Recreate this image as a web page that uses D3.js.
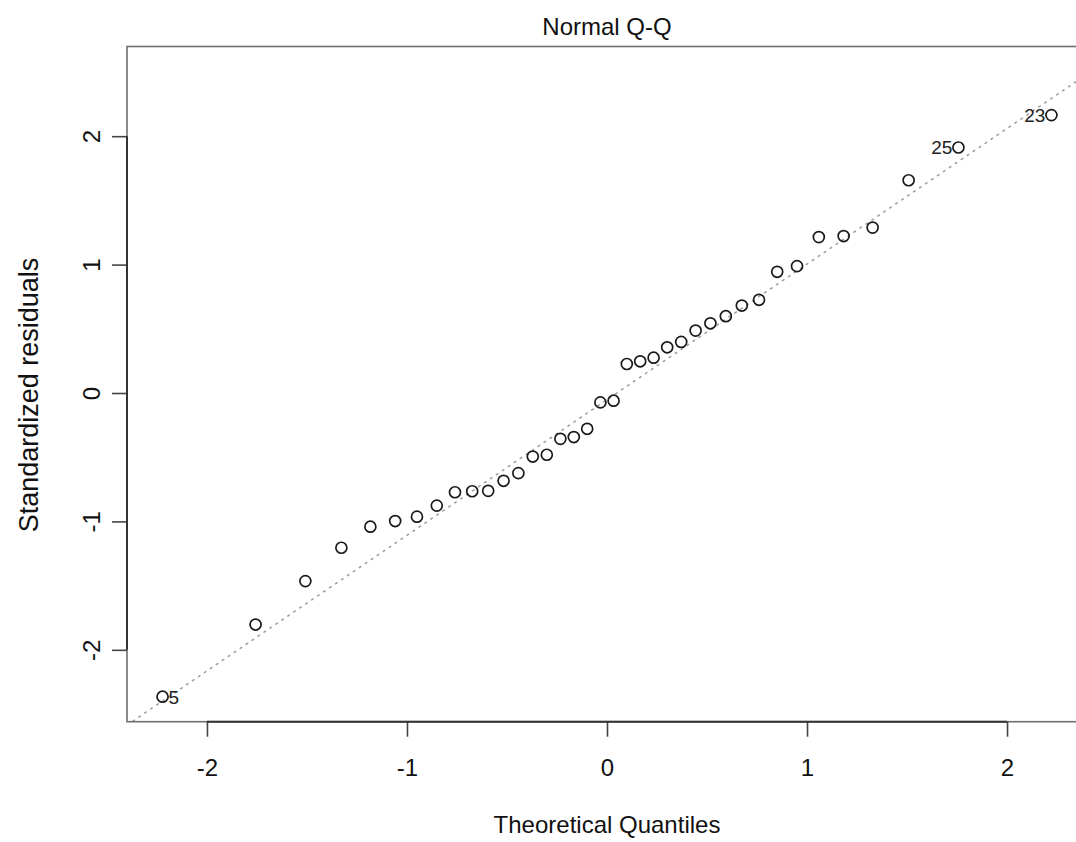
<!DOCTYPE html>
<html>
<head>
<meta charset="utf-8">
<script src="https://cdn.jsdelivr.net/npm/d3@7"></script>
<style>
  html, body { margin: 0; padding: 0; background: #fff; }
  svg { display: block; font-family: "Liberation Sans", Arial, Helvetica, sans-serif; }
</style>
</head>
<body>
<svg id="chart" width="1076" height="842"></svg>
<script>
// ---- data ----
// theoretical quantiles (x) read at each point, sorted
const theoQuantiles = [
  -2.222, -1.757, -1.508, -1.328, -1.183, -1.059, -0.950, -0.851, -0.760, -0.674,
  -0.594, -0.517, -0.443, -0.371, -0.301, -0.233, -0.166, -0.099, -0.033,
   0.033,  0.099,  0.166,  0.233,  0.301,  0.371,  0.443,  0.517,  0.594,  0.674,
   0.760,  0.851,  0.950,  1.059,  1.183,  1.328,  1.508,  1.757,  2.222
];
// standardized residuals (y), sorted
const stdResiduals = [
  -2.365, -1.803, -1.465, -1.205, -1.041, -0.997, -0.963, -0.877, -0.773, -0.765,
  -0.762, -0.684, -0.624, -0.495, -0.481, -0.357, -0.343, -0.279, -0.073, -0.060,
   0.226,  0.247,  0.275,  0.356,  0.398,  0.486,  0.543,  0.598,  0.681,  0.726,
   0.944,  0.988,  1.214,  1.222,  1.288,  1.657,  1.912,  2.164
];
// labelled observations (index into sorted arrays) and their labels
const labelIndex = [0, 36, 37];
const labelText  = ["5", "25", "23"];
const xTicks = [-2, -1, 0, 1, 2];
const yTicks = [-2, -1, 0, 1, 2];
// standard normal quartiles used by the reference line
const normQuartiles = [-0.6745, 0.6745];
const titleText = "Normal Q-Q";
const xLabel = "Theoretical Quantiles";
const yLabel = "Standardized residuals";

// ---- layout ----
const W = 1076, H = 842;
const plotL = 127, plotR = 1087, plotT = 46.5, plotB = 721.7;

const svg = d3.select("#chart");
svg.append("rect").attr("width", W).attr("height", H).attr("fill", "#fff");

// R-style limits: 4% extension; y upper extended 7.5% for labels
const xr = d3.extent(theoQuantiles);
const xd = xr[1] - xr[0];
const yr = d3.extent(stdResiduals);
const ylim = [yr[0], yr[1] + (yr[1] - yr[0]) * 0.075];
const yd = ylim[1] - ylim[0];

const x = d3.scaleLinear().domain([xr[0] - 0.04 * xd, xr[1] + 0.04 * xd]).range([plotL, plotR]);
const y = d3.scaleLinear().domain([ylim[0] - 0.04 * yd, ylim[1] + 0.04 * yd]).range([plotB, plotT]);

const pts = theoQuantiles.map((q, i) => ({ q, r: stdResiduals[i] }));

// clip for the reference line
svg.append("defs").append("clipPath").attr("id", "plotclip")
  .append("rect").attr("x", plotL).attr("y", plotT)
  .attr("width", plotR - plotL).attr("height", plotB - plotT);

// qqline through quartiles
const q1 = d3.quantile(stdResiduals, 0.25), q3 = d3.quantile(stdResiduals, 0.75);
const z1 = normQuartiles[0], z3 = normQuartiles[1];
const slope = (q3 - q1) / (z3 - z1);
const icpt = q1 - slope * z1;
const xd0 = x.domain();
svg.append("line")
  .attr("clip-path", "url(#plotclip)")
  .attr("x1", x(xd0[0])).attr("y1", y(icpt + slope * xd0[0]))
  .attr("x2", x(xd0[1])).attr("y2", y(icpt + slope * xd0[1]))
  .attr("stroke", "#a0a0a0").attr("stroke-width", 1.6)
  .attr("stroke-dasharray", "1.6,5.6").attr("stroke-linecap", "round");

// box
svg.append("rect")
  .attr("x", plotL).attr("y", plotT)
  .attr("width", plotR - plotL).attr("height", plotB - plotT)
  .attr("fill", "none").attr("stroke", "#6e6e6e").attr("stroke-width", 1.6);

// x axis
const gx = svg.append("g").attr("transform", `translate(0,${plotB})`)
  .call(d3.axisBottom(x).tickValues(xTicks).tickSize(15).tickSizeOuter(0).tickFormat(d3.format("d")));
gx.select(".domain").remove();
gx.append("line").attr("x1", x(xTicks[0])).attr("x2", x(xTicks[xTicks.length - 1]))
  .attr("y1", 0).attr("y2", 0).attr("stroke", "#333").attr("stroke-width", 2);
gx.selectAll(".tick line").attr("stroke", "#444").attr("stroke-width", 1.6);
gx.selectAll(".tick text")
  .attr("y", 54).attr("dy", null)
  .attr("fill", "#111").style("font-size", "24px")
  .text(d => d < 0 ? "-" + Math.abs(d) : String(d));

// y axis
const gy = svg.append("g").attr("transform", `translate(${plotL},0)`)
  .call(d3.axisLeft(y).tickValues(yTicks).tickSize(15).tickSizeOuter(0));
gy.select(".domain").remove();
gy.append("line").attr("y1", y(yTicks[0])).attr("y2", y(yTicks[yTicks.length - 1]))
  .attr("x1", 0).attr("x2", 0).attr("stroke", "#333").attr("stroke-width", 2);
gy.selectAll(".tick line").attr("stroke", "#444").attr("stroke-width", 1.6);
gy.selectAll(".tick text")
  .attr("x", null).attr("dy", null).attr("y", null)
  .attr("text-anchor", "middle")
  .attr("transform", "translate(-27.5,0) rotate(-90)")
  .attr("fill", "#111").style("font-size", "24px")
  .text(d => d < 0 ? "-" + Math.abs(d) : String(d));

// points
svg.append("g").selectAll("circle").data(pts).join("circle")
  .attr("cx", d => x(d.q)).attr("cy", d => y(d.r)).attr("r", 5.5)
  .attr("fill", "none").attr("stroke", "#1a1a1a").attr("stroke-width", 1.7);

// point labels
const midX = (xr[0] + xr[1]) / 2;
svg.append("g").selectAll("text").data(labelIndex).join("text")
  .attr("x", (d) => x(pts[d].q) + (pts[d].q > midX ? -6 : 6))
  .attr("y", d => y(pts[d].r))
  .attr("dy", "0.36em")
  .attr("text-anchor", d => pts[d].q > midX ? "end" : "start")
  .attr("fill", "#222").style("font-size", "19px")
  .text((d, i) => labelText[i]);

// titles
svg.append("text").attr("x", (plotL + plotR) / 2).attr("y", 35)
  .attr("text-anchor", "middle").attr("fill", "#111").style("font-size", "24px").text(titleText);
svg.append("text").attr("x", (plotL + plotR) / 2).attr("y", 833)
  .attr("text-anchor", "middle").attr("fill", "#111").style("font-size", "24px").text(xLabel);
svg.append("text").attr("transform", `translate(38,395) rotate(-90)`)
  .attr("text-anchor", "middle").attr("fill", "#111").style("font-size", "27px").text(yLabel);
</script>
</body>
</html>
